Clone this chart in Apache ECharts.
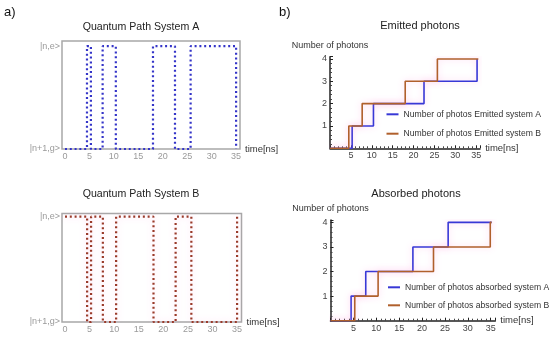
<!DOCTYPE html>
<html><head><meta charset="utf-8">
<script src="https://cdn.jsdelivr.net/npm/echarts@6/dist/echarts.min.js"></script>
<style>html,body{margin:0;padding:0;background:#fff}#c{width:550px;height:338px}</style>
</head><body><div id="c"></div><script>
// ---- data ----
const timeTicks = [0, 5, 10, 15, 20, 25, 30, 35];
const stateLabels = ['|n+1,g>', '|n,e>'];
const pathTimes = [0, 4.5, 5.3, 7.7, 10.4, 18.0, 22.5, 25.7, 35.0];
const pathA = [0, 1, 0, 1, 0, 1, 0, 1, 0];
const pathB = [1, 0, 1, 0, 1, 0, 1, 0, 1];
const emittedTimesA = [0, 5.3, 10.4, 22.5, 35.2];
const emittedA = [0, 1, 2, 3, 4];
const emittedTimesB = [0, 4.5, 7.7, 18.0, 25.7, 35.5];
const emittedB = [0, 1, 2, 3, 4, 4];
const absorbedTimesA = [0, 4.5, 7.7, 18.0, 25.7, 35.2];
const absorbedA = [0, 1, 2, 3, 4, 4];
const absorbedTimesB = [0, 5.3, 10.4, 22.5, 34.9, 35.2];
const absorbedB = [0, 1, 2, 3, 4, 4];
const names = {
  eA: 'Number of photos Emitted system A',
  eB: 'Number of photos Emitted system B',
  aA: 'Number of photos absorbed system A',
  aB: 'Number of photos absorbed system B'
};

const zip = (t, v) => t.map((x, i) => [x, v[i]]);
const FONT = 'Liberation Sans, Arial, sans-serif';
const BLUE = '#3838d6', BROWN = '#b0602c', DBLUE = '#3434c8', DRED = '#9a3a2a';
const HALO = 'rgba(255,140,215,0.45)';

const chart = echarts.init(document.getElementById('c'), null, {renderer: 'canvas'});

function leftX(gi, max) {
  return {
    gridIndex: gi, type: 'value', min: -0.61, max: max,
    axisLine: {show: false}, axisTick: {show: false}, splitLine: {show: false},
    axisLabel: {customValues: timeTicks, color: '#9a9a9a', fontSize: 9, margin: 3, fontFamily: FONT},
    name: 'time[ns]', nameLocation: 'end', nameGap: 5,
    nameTextStyle: {color: '#333', fontSize: 9.5, fontFamily: FONT}
  };
}
function leftY(gi, max) {
  return {
    gridIndex: gi, type: 'value', min: 0, max: max,
    axisLine: {show: false}, axisTick: {show: false}, splitLine: {show: false},
    axisLabel: {customValues: [0, 1], formatter: v => stateLabels[Math.round(v)], color: '#9a9a9a', fontSize: 9, margin: 2, fontFamily: FONT}
  };
}
function rightX(gi, max) {
  return {
    gridIndex: gi, type: 'value', min: 0, max: max, interval: 5,
    axisLine: {show: true, lineStyle: {color: '#222', width: 1.5}},
    axisTick: {show: true, inside: true, length: 3, lineStyle: {color: '#222'}},
    minorTick: {show: true, splitNumber: 5, length: 2, lineStyle: {color: '#444'}},
    splitLine: {show: false},
    axisLabel: {showMinLabel: false, showMaxLabel: false, color: '#444', fontSize: 9, margin: 3, fontFamily: FONT},
    name: 'time[ns]', nameLocation: 'end', nameGap: 5,
    nameTextStyle: {color: '#333', fontSize: 9.5, fontFamily: FONT}
  };
}
function rightY(gi) {
  return {
    gridIndex: gi, type: 'value', min: 0, max: 4.1, interval: 1,
    axisLine: {show: true, lineStyle: {color: '#222', width: 1.5}},
    axisTick: {show: true, inside: true, length: 3, lineStyle: {color: '#222'}},
    minorTick: {show: true, splitNumber: 5, length: 2, lineStyle: {color: '#444'}},
    splitLine: {show: false},
    axisLabel: {showMinLabel: false, showMaxLabel: false, color: '#444', fontSize: 9, margin: 3, fontFamily: FONT},
    name: 'Number of photons', nameLocation: 'end', nameGap: 7,
    nameTextStyle: {color: '#333', fontSize: 9, fontFamily: FONT}
  };
}
function dotted(name, gi, data, color, halo) {
  const ls = {color: color, width: 2.2, type: [2, 2.8]};
  if (halo) { ls.shadowColor = HALO; ls.shadowBlur = 6; }
  return {
    name: name, type: 'line', xAxisIndex: gi, yAxisIndex: gi, step: 'end',
    data: data, showSymbol: false, symbol: 'none', silent: true,
    lineStyle: ls
  };
}
function solid(name, gi, data, color) {
  return {
    name: name, type: 'line', xAxisIndex: gi, yAxisIndex: gi, step: 'end',
    data: data, showSymbol: false, symbol: 'none', silent: true, color: color,
    lineStyle: {color: color, width: 1.6, shadowColor: HALO, shadowBlur: 6}
  };
}

const option = {
  backgroundColor: '#fff',
  animation: false,
  textStyle: {fontFamily: FONT},
  title: [
    {text: 'a)', left: 4, top: 6, padding: 0, textStyle: {fontSize: 13, fontWeight: 'normal', color: '#111', fontFamily: FONT}},
    {text: 'b)', left: 279, top: 6, padding: 0, textStyle: {fontSize: 13, fontWeight: 'normal', color: '#111', fontFamily: FONT}},
    {text: 'Quantum Path System A', left: 141, top: 22, textAlign: 'center', padding: 0, textStyle: {fontSize: 10.6, fontWeight: 'normal', color: '#222', fontFamily: FONT}},
    {text: 'Quantum Path System B', left: 141, top: 188.5, textAlign: 'center', padding: 0, textStyle: {fontSize: 10.6, fontWeight: 'normal', color: '#222', fontFamily: FONT}},
    {text: 'Emitted photons', left: 420, top: 20.5, textAlign: 'center', padding: 0, textStyle: {fontSize: 11, fontWeight: 'normal', color: '#222', fontFamily: FONT}},
    {text: 'Absorbed photons', left: 416, top: 188, textAlign: 'center', padding: 0, textStyle: {fontSize: 11, fontWeight: 'normal', color: '#222', fontFamily: FONT}}
  ],
  grid: [
    {left: 62, top: 41, width: 178, height: 108, show: true, borderColor: '#a8a8a8', borderWidth: 1.5, backgroundColor: 'transparent'},
    {left: 62, top: 213.5, width: 179.5, height: 108.5, show: true, borderColor: '#a8a8a8', borderWidth: 1.5, backgroundColor: 'transparent'},
    {left: 330, top: 56.7, width: 150, height: 91.6},
    {left: 330.5, top: 219.9, width: 164.8, height: 100.8}
  ],
  xAxis: [leftX(0, 35.8), leftX(1, 35.9), rightX(2, 35.9), rightX(3, 36.0)],
  yAxis: [leftY(0, 1.05), leftY(1, 1.03), rightY(2), rightY(3)],
  legend: [
    {data: [names.eA, names.eB], orient: 'vertical', left: 386.5, top: 109.3, padding: 0,
     itemWidth: 12, itemHeight: 2, itemGap: 9.4, icon: 'rect', selectedMode: false,
     textStyle: {fontSize: 8.6, color: '#333', lineHeight: 10, fontFamily: FONT}},
    {data: [names.aA, names.aB], orient: 'vertical', left: 388, top: 282.3, padding: 0,
     itemWidth: 12, itemHeight: 2, itemGap: 8, icon: 'rect', selectedMode: false,
     textStyle: {fontSize: 8.6, color: '#333', lineHeight: 10, fontFamily: FONT}}
  ],
  series: [
    dotted('Path A', 0, zip(pathTimes, pathA), DBLUE, false),
    dotted('Path B', 1, zip(pathTimes, pathB), DRED, true),
    solid(names.eA, 2, zip(emittedTimesA, emittedA), BLUE),
    solid(names.eB, 2, zip(emittedTimesB, emittedB), BROWN),
    solid(names.aA, 3, zip(absorbedTimesA, absorbedA), BLUE),
    solid(names.aB, 3, zip(absorbedTimesB, absorbedB), BROWN)
  ]
};
chart.setOption(option);
</script></body></html>
